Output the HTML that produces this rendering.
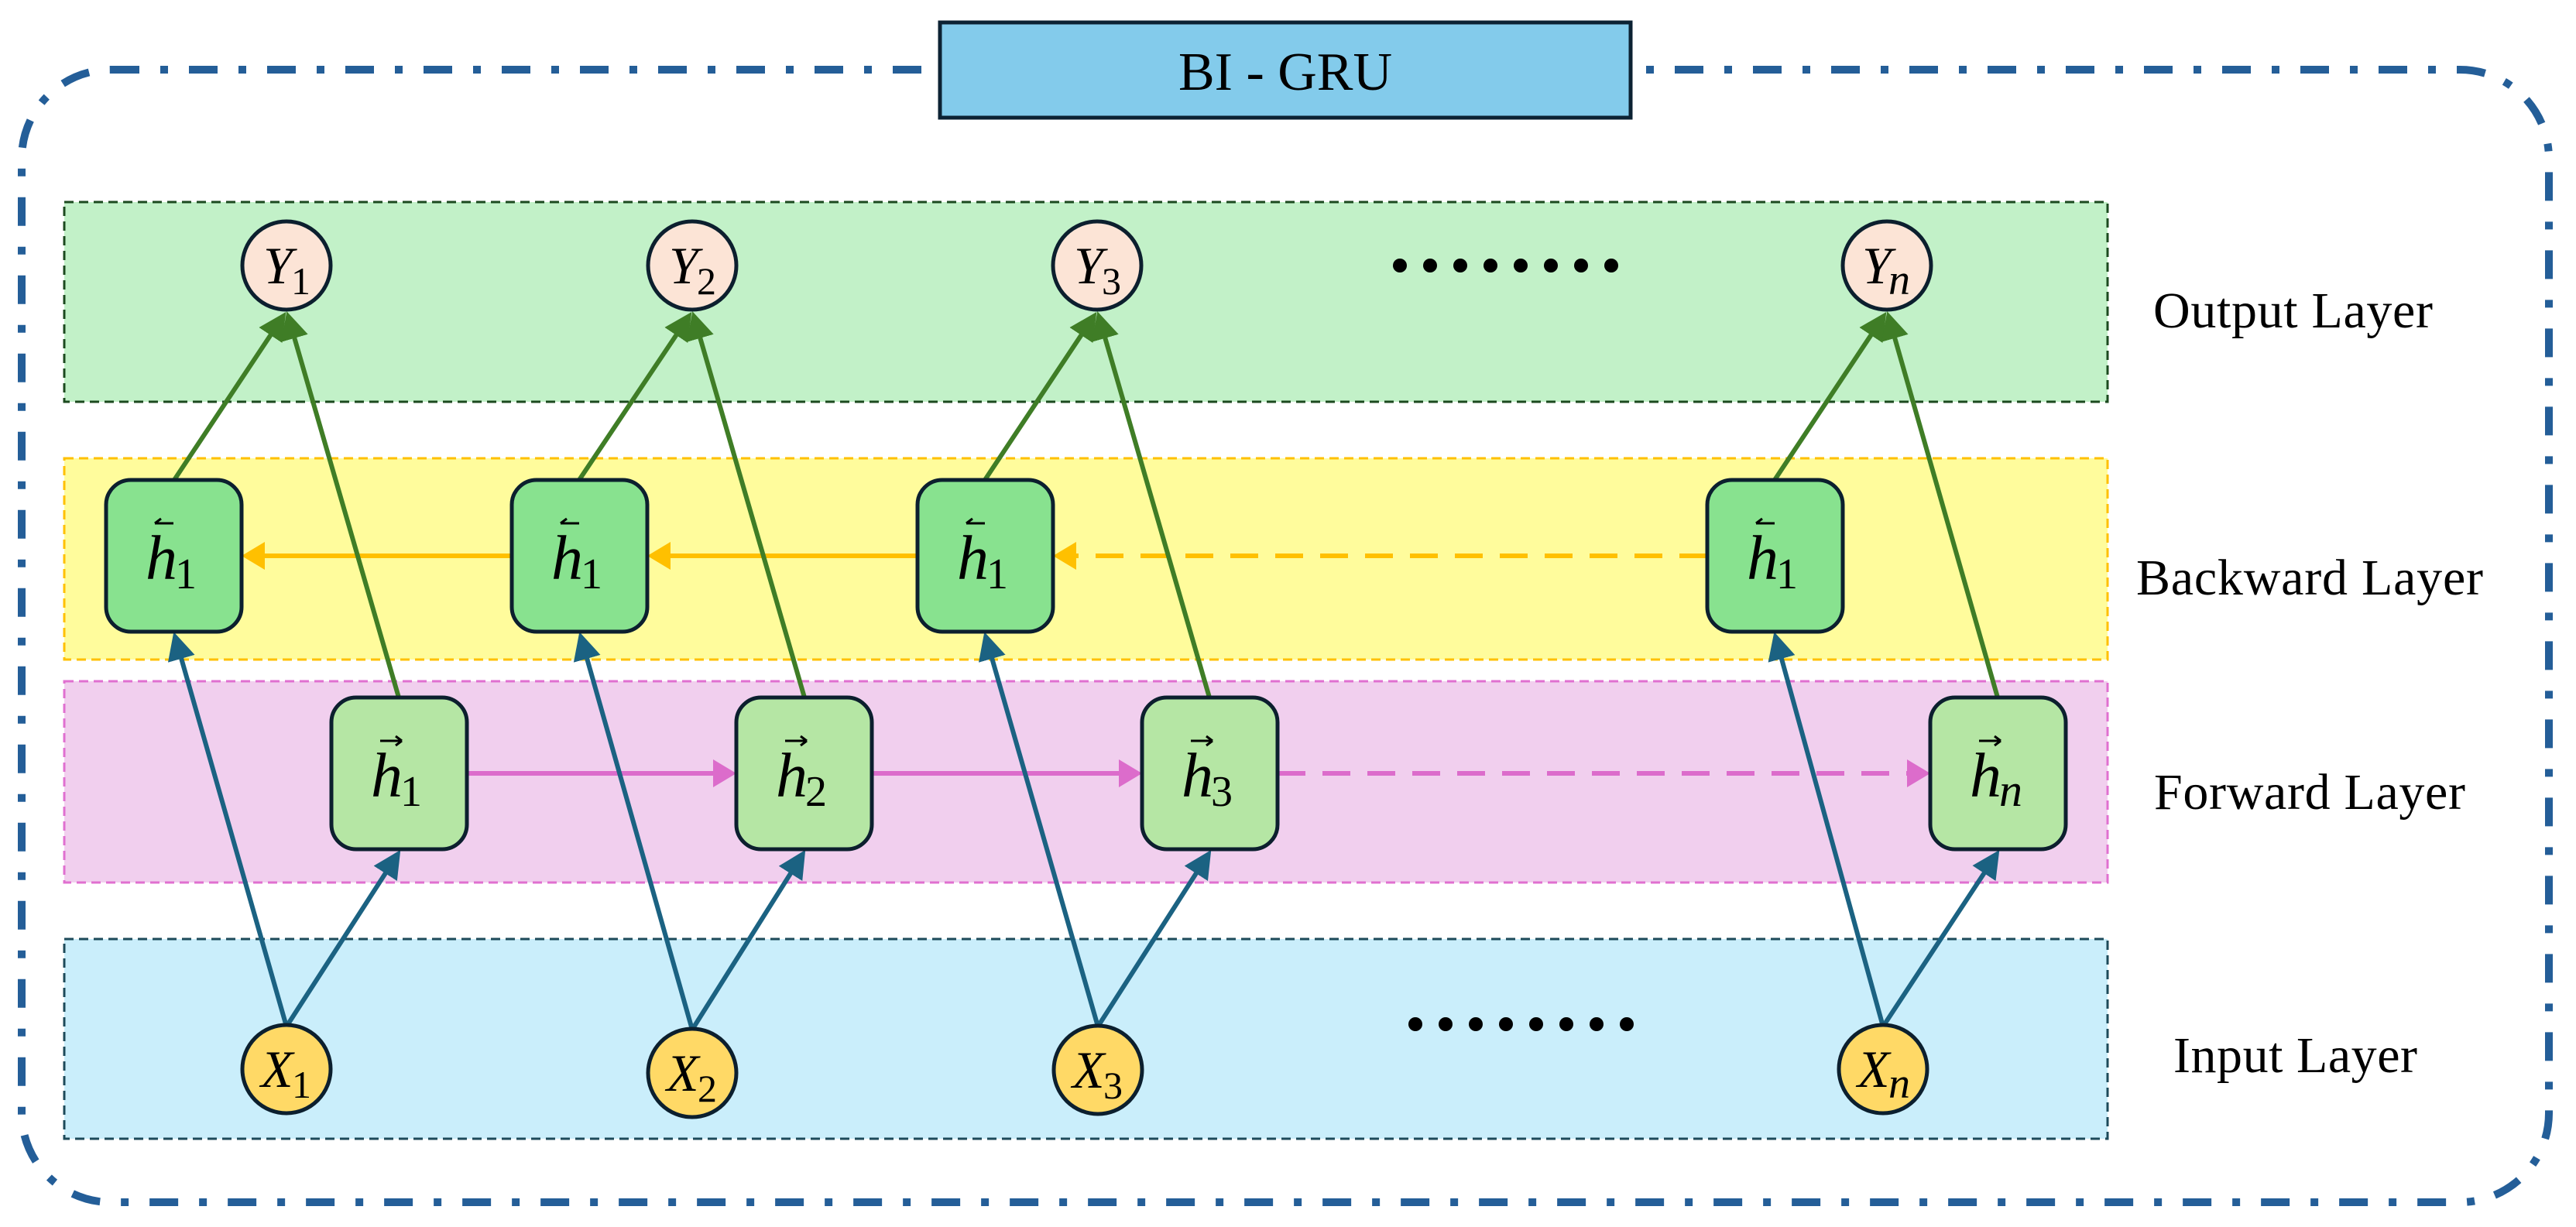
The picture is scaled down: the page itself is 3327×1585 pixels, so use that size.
<!DOCTYPE html>
<html><head><meta charset="utf-8"><style>
html,body{margin:0;padding:0;background:#fff;width:3327px;height:1585px;overflow:hidden}
svg{display:block}
</style></head><body>
<svg width="3327" height="1585" viewBox="0 0 3327 1585" xmlns="http://www.w3.org/2000/svg">
<defs>
<marker id="ag" markerWidth="6" markerHeight="6" refX="5" refY="3" orient="auto" markerUnits="strokeWidth"><path d="M0,0 L6,3 L0,6 z" fill="#3f7d26"/></marker>
<marker id="ab" markerWidth="6" markerHeight="6" refX="5" refY="3" orient="auto" markerUnits="strokeWidth"><path d="M0,0 L6,3 L0,6 z" fill="#1b6282"/></marker>
<marker id="ay" markerWidth="5" markerHeight="6" refX="4" refY="3" orient="auto" markerUnits="strokeWidth"><path d="M0,0 L5,3 L0,6 z" fill="#ffc000"/></marker>
<marker id="ap" markerWidth="5" markerHeight="6" refX="4" refY="3" orient="auto" markerUnits="strokeWidth"><path d="M0,0 L5,3 L0,6 z" fill="#dc6ccb"/></marker>
</defs>

<rect x="28" y="90" width="3264" height="1463" rx="115" fill="none" stroke="#245e98" stroke-width="10" stroke-dasharray="37 27 10 27"/>

<rect x="1214" y="29" width="892" height="123" fill="#83cbeb" stroke="#0c2233" stroke-width="5"/>
<text x="1660" y="116" text-anchor="middle" font-family="Liberation Serif, serif" font-size="70" fill="#000">BI - GRU</text>

<rect x="83" y="261" width="2639" height="258" fill="#c2f1c8" stroke="#1c4a1f" stroke-width="3" stroke-dasharray="12 7"/>
<rect x="83" y="592" width="2639" height="260" fill="#fffc9c" stroke="#ffc000" stroke-width="3" stroke-dasharray="12 7"/>
<rect x="83" y="880" width="2639" height="260" fill="#f1cfee" stroke="#e070d0" stroke-width="3" stroke-dasharray="12 7"/>
<rect x="83" y="1213" width="2639" height="258" fill="#caeefb" stroke="#1d4a5a" stroke-width="3" stroke-dasharray="12 7"/>

<g font-family="Liberation Serif, serif" font-size="66" fill="#000">
<text x="2781" y="423" textLength="361">Output Layer</text>
<text x="2759" y="768" textLength="448">Backward Layer</text>
<text x="2782" y="1045" textLength="402">Forward Layer</text>
<text x="2807" y="1385" textLength="315">Input Layer</text>
</g>

<g fill="#000">
<circle cx="1808" cy="343" r="9"/><circle cx="1847" cy="343" r="9"/><circle cx="1886" cy="343" r="9"/><circle cx="1925" cy="343" r="9"/><circle cx="1964" cy="343" r="9"/><circle cx="2003" cy="343" r="9"/><circle cx="2042" cy="343" r="9"/><circle cx="2081" cy="343" r="9"/>
<circle cx="1828" cy="1323" r="9"/><circle cx="1867" cy="1323" r="9"/><circle cx="1906" cy="1323" r="9"/><circle cx="1945" cy="1323" r="9"/><circle cx="1984" cy="1323" r="9"/><circle cx="2023" cy="1323" r="9"/><circle cx="2062" cy="1323" r="9"/><circle cx="2101" cy="1323" r="9"/>
</g>

<g stroke-width="6" fill="none">
<line x1="661" y1="718" x2="318" y2="718" stroke="#ffc000" marker-end="url(#ay)"/>
<line x1="1185" y1="718" x2="842" y2="718" stroke="#ffc000" marker-end="url(#ay)"/>
<line x1="2205" y1="718" x2="1366" y2="718" stroke="#ffc000" stroke-dasharray="36 22" marker-end="url(#ay)"/>
<line x1="603" y1="999" x2="945" y2="999" stroke="#dc6ccb" marker-end="url(#ap)"/>
<line x1="1126" y1="999" x2="1469" y2="999" stroke="#dc6ccb" marker-end="url(#ap)"/>
<line x1="1650" y1="999" x2="2487" y2="999" stroke="#dc6ccb" stroke-dasharray="36 22" marker-end="url(#ap)"/>
</g>

<g stroke="#3f7d26" stroke-width="6" fill="none">
<line x1="225" y1="620" x2="366" y2="408" marker-end="url(#ag)"/>
<line x1="515" y1="901" x2="372" y2="408" marker-end="url(#ag)"/>
<line x1="748" y1="620" x2="890" y2="408" marker-end="url(#ag)"/>
<line x1="1039" y1="901" x2="896" y2="408" marker-end="url(#ag)"/>
<line x1="1272" y1="620" x2="1413" y2="408" marker-end="url(#ag)"/>
<line x1="1562" y1="901" x2="1419" y2="408" marker-end="url(#ag)"/>
<line x1="2292" y1="620" x2="2433" y2="408" marker-end="url(#ag)"/>
<line x1="2580" y1="901" x2="2439" y2="408" marker-end="url(#ag)"/>
</g>

<g stroke="#1b6282" stroke-width="6" fill="none">
<line x1="370" y1="1326" x2="226" y2="822" marker-end="url(#ab)"/>
<line x1="370" y1="1326" x2="514" y2="1103" marker-end="url(#ab)"/>
<line x1="894" y1="1330" x2="750" y2="822" marker-end="url(#ab)"/>
<line x1="894" y1="1330" x2="1037" y2="1103" marker-end="url(#ab)"/>
<line x1="1418" y1="1326" x2="1273" y2="822" marker-end="url(#ab)"/>
<line x1="1418" y1="1326" x2="1561" y2="1103" marker-end="url(#ab)"/>
<line x1="2432" y1="1326" x2="2293" y2="822" marker-end="url(#ab)"/>
<line x1="2432" y1="1326" x2="2579" y2="1103" marker-end="url(#ab)"/>
</g>

<g fill="#88e28f" stroke="#0c1f2e" stroke-width="5">
<rect x="137" y="620" width="175" height="196" rx="32"/>
<rect x="661" y="620" width="175" height="196" rx="32"/>
<rect x="1185" y="620" width="175" height="196" rx="32"/>
<rect x="2205" y="620" width="175" height="196" rx="32"/>
</g>
<g fill="#b5e6a4" stroke="#0c1f2e" stroke-width="5">
<rect x="428" y="901" width="175" height="196" rx="32"/>
<rect x="951" y="901" width="175" height="196" rx="32"/>
<rect x="1475" y="901" width="175" height="196" rx="32"/>
<rect x="2493" y="901" width="175" height="196" rx="32"/>
</g>

<g font-family="Liberation Serif, serif" fill="#000">
<g font-size="82" font-style="italic">
<text x="188" y="748">h</text><text x="712" y="748">h</text><text x="1236" y="748">h</text><text x="2256" y="748">h</text>
<text x="479" y="1029">h</text><text x="1002" y="1029">h</text><text x="1526" y="1029">h</text><text x="2544" y="1029">h</text>
</g>
<g font-size="56">
<text x="226" y="760">1</text><text x="750" y="760">1</text><text x="1274" y="760">1</text><text x="2294" y="760">1</text>
<text x="517" y="1041">1</text><text x="1040" y="1041">2</text><text x="1564" y="1041">3</text>
</g>
<text x="2582" y="1041" font-size="60" font-style="italic">n</text>
<g stroke="#000" stroke-width="3" fill="none">
<path d="M200,676 h24 M200,676 l8,-6"/><path d="M724,676 h24 M724,676 l8,-6"/><path d="M1248,676 h24 M1248,676 l8,-6"/><path d="M2268,676 h24 M2268,676 l8,-6"/>
<path d="M491,957 h28 M519,957 l-8,-6 M519,957 l-8,6"/><path d="M1014,957 h28 M1042,957 l-8,-6 M1042,957 l-8,6"/><path d="M1538,957 h28 M1566,957 l-8,-6 M1566,957 l-8,6"/><path d="M2556,957 h28 M2584,957 l-8,-6 M2584,957 l-8,6"/>
</g>
</g>

<g fill="#fce4d6" stroke="#0c1f2e" stroke-width="5">
<ellipse cx="370" cy="343" rx="57" ry="57"/>
<ellipse cx="894" cy="343" rx="57" ry="57"/>
<ellipse cx="1417" cy="343" rx="57" ry="57"/>
<ellipse cx="2437" cy="343" rx="57" ry="57"/>
</g>
<g fill="#ffd966" stroke="#0c1f2e" stroke-width="5">
<ellipse cx="370" cy="1381" rx="57" ry="57"/>
<ellipse cx="894" cy="1386" rx="57" ry="57"/>
<ellipse cx="1418" cy="1382" rx="57" ry="57"/>
<ellipse cx="2432" cy="1381" rx="57" ry="57"/>
</g>
<g font-family="Liberation Serif, serif" fill="#000">
<g font-size="68" font-style="italic">
<text x="340" y="366">Y</text><text x="864" y="366">Y</text><text x="1387" y="366">Y</text><text x="2405" y="366">Y</text><text x="2439" y="380" font-size="56">n</text>
<text x="337" y="1404">X</text><text x="861" y="1409">X</text><text x="1385" y="1405">X</text><text x="2399" y="1404">X</text><text x="2439" y="1418" font-size="56">n</text>
</g>
<g font-size="50">
<text x="376" y="380">1</text><text x="900" y="380">2</text><text x="1423" y="380">3</text>
<text x="377" y="1418">1</text><text x="901" y="1423">2</text><text x="1425" y="1419">3</text>
</g>
</g>
</svg>
</body></html>
